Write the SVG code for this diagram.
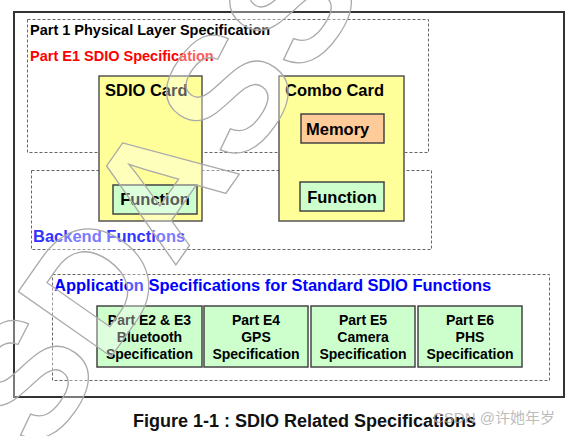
<svg xmlns="http://www.w3.org/2000/svg" width="583" height="436" viewBox="0 0 583 436">
<style>
text{font-family:"Liberation Sans",Arial,sans-serif;font-weight:bold;}
.dash{fill:none;stroke:#666;stroke-width:1;stroke-dasharray:3,2;}
.card{fill:#FFFF99;stroke:#555;stroke-width:1.5;}
.green{fill:#CCFFCC;stroke:#444;stroke-width:1.5;}
.peach{fill:#FFCC99;stroke:#444;stroke-width:1.5;}
.t16{font-size:16.5px;fill:#000;}
.t14{font-size:14px;fill:#000;text-anchor:middle;}
.wm{font-size:165px;font-weight:bold;fill:#fff;fill-opacity:0.35;stroke:#aaa;stroke-width:1.3;}
</style>
<rect x="0" y="0" width="583" height="436" fill="#fff"/>
<g id="outer">
<rect x="14" y="12" width="550" height="385" fill="none" stroke="#333" stroke-width="2"/>
</g>
<g id="physical-layer">
<rect class="dash" x="27.5" y="19.5" width="401" height="133"/>
<text x="30" y="35" style="font-size:14.5px">Part 1 Physical Layer Specification</text>
<text x="30" y="61" style="font-size:14.5px;fill:#FF0000">Part E1 SDIO Specification</text>
</g>
<g id="backend">
<rect class="dash" x="31.5" y="170.5" width="400" height="79"/>
</g>
<g id="sdio-card">
<rect class="card" x="99" y="76" width="103" height="145"/>
<text class="t16" x="105" y="96">SDIO Card</text>
</g>
<g id="sdio-function">
<rect class="green" x="113" y="185" width="84" height="29"/>
<text class="t16" x="155" y="205" text-anchor="middle">Function</text>
</g>
<g id="combo-card">
<rect class="card" x="279" y="76" width="125" height="145"/>
<text class="t16" x="285" y="96">Combo Card</text>
</g>
<g id="memory">
<rect class="peach" x="301" y="114" width="83" height="29"/>
<text class="t16" x="306" y="135">Memory</text>
</g>
<g id="combo-function">
<rect class="green" x="300" y="182" width="84" height="29"/>
<text class="t16" x="342" y="203" text-anchor="middle">Function</text>
</g>
<g id="backend-label">
<text x="33" y="242" style="font-size:16.5px;fill:#3333FF">Backend Functions</text>
</g>
<g id="application">
<rect class="dash" x="52.5" y="274.5" width="497" height="106"/>
<text x="54" y="291" style="font-size:16.5px;fill:#0000FF">Application Specifications for Standard SDIO Functions</text>
</g>
<g id="e2e3">
<rect class="green" x="97" y="306" width="105" height="61"/>
<text class="t14" x="149.5" y="325">Part E2 &amp; E3</text>
<text class="t14" x="149.5" y="342">Bluetooth</text>
<text class="t14" x="149.5" y="359">Specification</text>
</g>
<g id="e4">
<rect class="green" x="204" y="306" width="104" height="61"/>
<text class="t14" x="256" y="325">Part E4</text>
<text class="t14" x="256" y="342">GPS</text>
<text class="t14" x="256" y="359">Specification</text>
</g>
<g id="e5">
<rect class="green" x="311" y="306" width="104" height="61"/>
<text class="t14" x="363" y="325">Part E5</text>
<text class="t14" x="363" y="342">Camera</text>
<text class="t14" x="363" y="359">Specification</text>
</g>
<g id="e6">
<rect class="green" x="418" y="306" width="104" height="61"/>
<text class="t14" x="470" y="325">Part E6</text>
<text class="t14" x="470" y="342">PHS</text>
<text class="t14" x="470" y="359">Specification</text>
</g>
<g id="connectors"></g>
<g id="caption">
<text x="133" y="427" style="font-size:18px;fill:#111">Figure 1-1 : SDIO Related Specifications</text>
</g>
<g id="watermark">
<text class="wm" transform="translate(42,456) rotate(-55)">SDASSO</text>
<text x="433" y="423" style="font-size:15px;font-weight:normal;fill:#aaa;fill-opacity:0.8;font-family:'Liberation Sans','Noto Sans CJK SC',sans-serif">CSDN @许她年岁</text>
</g>
</svg>
